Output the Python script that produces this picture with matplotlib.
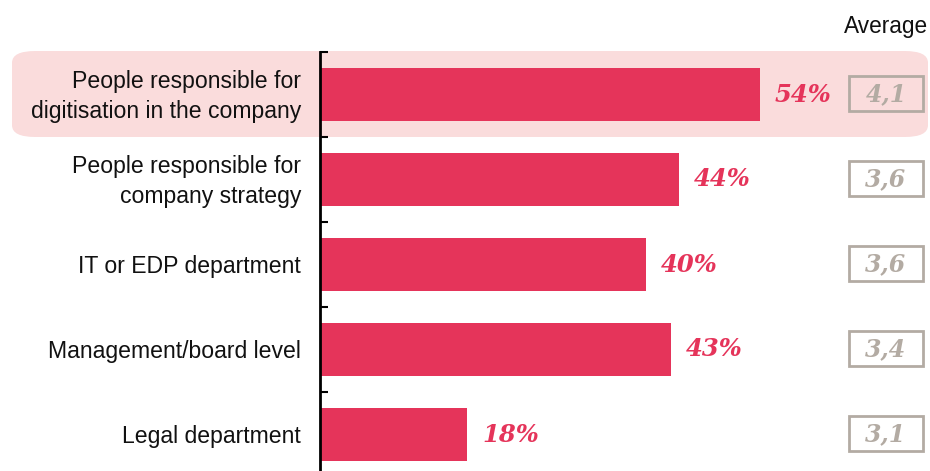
import matplotlib.pyplot as plt
from matplotlib.patches import FancyBboxPatch, Rectangle
from matplotlib.transforms import blended_transform_factory

categories = [
    "People responsible for\ndigitisation in the company",
    "People responsible for\ncompany strategy",
    "IT or EDP department",
    "Management/board level",
    "Legal department",
]
shares = [54, 44, 40, 43, 18]
averages = ["4,1", "3,6", "3,6", "3,4", "3,1"]

BAR = "#E5345A"
GREY = "#B3ABA3"
HIGHLIGHT = "#FADCDC"

W, H = 930, 471
fig = plt.figure(figsize=(W / 100, H / 100), dpi=100)

# highlight band behind first row
fig.patches.append(FancyBboxPatch(
    (12 / W, (H - 137) / H), 916 / W, 86 / H,
    boxstyle="round,pad=0,rounding_size=0.025",
    transform=fig.transFigure, facecolor=HIGHLIGHT, edgecolor="none", zorder=-5))

px_per_pct = 8.14
left, right = 320, 930
top, bottom = 52, 471
ax = fig.add_axes([left / W, (H - bottom) / H, (right - left) / W, (bottom - top) / H])
ax.set_zorder(2)
ax.patch.set_alpha(0)
ax.set_xlim(0, (right - left) / px_per_pct)
ax.set_ylim(-0.5 + (bottom - top) / 85, -0.5)

y = list(range(len(categories)))
ax.barh(y, shares, height=53 / 85, color=BAR, left=0.1)

for yi, v in zip(y, shares):
    ax.text(v + 1.9, yi, f"{v}%", va="center", ha="left", color=BAR,
            fontsize=17.5, fontweight="bold", fontstyle="italic", family="DejaVu Serif")

bx = (886 - left) / px_per_pct
bw = 74 / px_per_pct
bh = 35 / 85
for yi, a in zip(y, averages):
    ax.add_patch(Rectangle((bx - bw / 2, yi - bh / 2 - 0.01), bw, bh, facecolor="none",
                           edgecolor=GREY, linewidth=2, clip_on=False))
    ax.text(bx, yi, a, ha="center", va="center", color=GREY,
            fontsize=17, fontweight="bold", fontstyle="italic", family="DejaVu Serif")

trans = blended_transform_factory(fig.transFigure, ax.transData)
for yi, c in zip(y, categories):
    ax.text(301 / W, yi + 0.02, c, transform=trans, ha="right", va="center",
            fontsize=16.6, family="Liberation Sans", color="#111111", linespacing=1.4)

fig.text(928 / W, (H - 27) / H, "Average", ha="right", va="center",
         fontsize=16.3, family="Liberation Sans", color="#111111")

for s in ["top", "right", "bottom"]:
    ax.spines[s].set_visible(False)
ax.spines["left"].set_linewidth(2)
ax.set_xticks([])
ax.set_yticks([i - 0.5 for i in y])
ax.set_yticklabels([])
ax.tick_params(axis="y", direction="in", length=6, width=1.5)

fig.savefig("out.png", dpi=100)
